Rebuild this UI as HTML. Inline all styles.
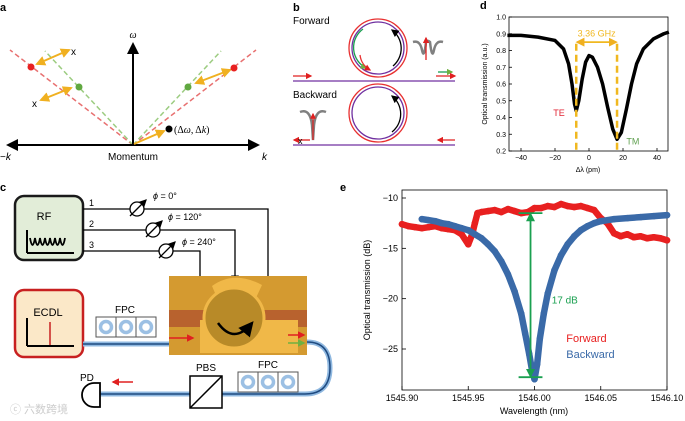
<!DOCTYPE html>
<html><head><meta charset="utf-8"><style>
body{margin:0;background:#fff}
svg{display:block;font-family:"Liberation Sans","Noto Sans CJK SC",sans-serif}
</style></head><body>
<svg id="fig" width="685" height="421" viewBox="0 0 685 421">
<defs>
<marker id="ab" markerWidth="6" markerHeight="6" refX="5" refY="3" orient="auto"><path d="M0,0L6,3L0,6z" fill="#000"/></marker>
<marker id="ay" markerWidth="5" markerHeight="5" refX="4" refY="2.5" orient="auto-start-reverse"><path d="M0,0L5,2.5L0,5z" fill="#f0b020"/></marker>
<marker id="ar" markerWidth="5" markerHeight="5" refX="4" refY="2.5" orient="auto"><path d="M0,0L5,2.5L0,5z" fill="#e02020"/></marker>
<marker id="ag" markerWidth="5" markerHeight="5" refX="4" refY="2.5" orient="auto-start-reverse"><path d="M0,0L5,2.5L0,5z" fill="#1aa050"/></marker>
<marker id="agg" markerWidth="5" markerHeight="5" refX="4" refY="2.5" orient="auto"><path d="M0,0L5,2.5L0,5z" fill="#70b040"/></marker>
</defs>

<g>
<text x="0" y="11" font-weight="bold" font-size="11">a</text>
<line x1="133" y1="145" x2="10" y2="50" stroke="#e87070" stroke-width="1.5" stroke-dasharray="5,3"/>
<line x1="133" y1="145" x2="256" y2="50" stroke="#e87070" stroke-width="1.5" stroke-dasharray="5,3"/>
<line x1="133" y1="145" x2="45" y2="51" stroke="#9ccc80" stroke-width="1.5" stroke-dasharray="5,3"/>
<line x1="133" y1="145" x2="221" y2="51" stroke="#9ccc80" stroke-width="1.5" stroke-dasharray="5,3"/>
<line x1="8" y1="145" x2="258" y2="145" stroke="#000" stroke-width="2" marker-end="url(#ab)"/>
<line x1="258" y1="145" x2="8" y2="145" stroke="#000" stroke-width="2" marker-end="url(#ab)"/>
<line x1="133" y1="146" x2="133" y2="44" stroke="#000" stroke-width="2" marker-end="url(#ab)"/>
<text x="133" y="38" font-size="10" font-style="italic" text-anchor="middle" font-family="Liberation Serif,serif">ω</text>
<text x="0" y="160" font-size="10">−<tspan font-style="italic">k</tspan></text>
<text x="133" y="160" font-size="10" text-anchor="middle">Momentum</text>
<text x="262" y="160" font-size="10" font-style="italic">k</text>
<g stroke="#f0b020" stroke-width="2" fill="none">
<line x1="37" y1="64" x2="69" y2="50" marker-start="url(#ay)" marker-end="url(#ay)"/>
<line x1="41" y1="100" x2="71" y2="88" marker-start="url(#ay)" marker-end="url(#ay)"/>
<line x1="196" y1="83" x2="230" y2="70" marker-start="url(#ay)" marker-end="url(#ay)"/>
<line x1="134" y1="144" x2="164" y2="131" marker-end="url(#ay)"/>
</g>
<circle cx="31" cy="67" r="3.5" fill="#e82020"/><circle cx="234" cy="68" r="3.5" fill="#e82020"/>
<circle cx="79" cy="87" r="3.5" fill="#60a840"/><circle cx="188" cy="87" r="3.5" fill="#60a840"/>
<circle cx="169" cy="129" r="3.5" fill="#000"/>
<text x="71" y="55" font-size="10">x</text><text x="32" y="107" font-size="10">x</text>
<text x="174" y="133" font-size="10" font-family="Liberation Serif,serif">(Δ<tspan font-style="italic">ω</tspan>, Δ<tspan font-style="italic">k</tspan>)</text>
</g>

<g>
<text x="293" y="11" font-weight="bold" font-size="11">b</text>
<text x="293" y="24" font-size="10">Forward</text>
<text x="293" y="98" font-size="10">Backward</text>
<circle cx="378" cy="48" r="29" fill="none" stroke="#e83030" stroke-width="1.3"/>
<circle cx="378" cy="48" r="26" fill="none" stroke="#7030a0" stroke-width="1.3"/>
<path d="M363,29 A23,23 0 0 0 366,68" fill="none" stroke="#1aa050" stroke-width="1.3" marker-end="url(#agg)"/>
<path d="M360,55 A20,20 0 0 0 370,70" fill="none" stroke="#e83030" stroke-width="1.3" marker-end="url(#ar)"/>
<path d="M393,66 A23,23 0 0 0 392,30" fill="none" stroke="#000" stroke-width="1.3" marker-end="url(#ab)"/>
<line x1="293" y1="81" x2="455" y2="81" stroke="#7030a0" stroke-width="1.3"/>
<line x1="293" y1="76" x2="311" y2="76" stroke="#e02020" stroke-width="1.3" marker-end="url(#ar)"/>
<line x1="438" y1="72" x2="452" y2="72" stroke="#1aa050" stroke-width="1.3" marker-end="url(#agg)"/>
<line x1="436" y1="76" x2="455" y2="76" stroke="#e02020" stroke-width="1.3" marker-end="url(#ar)"/>
<path d="M413,42 Q420,40 422,50 Q424,60 426,42 Q428,40 430,42 Q432,60 434,50 Q436,40 443,42" fill="none" stroke="#808080" stroke-width="2.5"/>
<line x1="426" y1="60" x2="426" y2="38" stroke="#e02020" stroke-width="1.3" marker-end="url(#ar)"/>
<circle cx="378" cy="113" r="29" fill="none" stroke="#e83030" stroke-width="1.3"/>
<circle cx="378" cy="113" r="26" fill="none" stroke="#7030a0" stroke-width="1.3"/>
<path d="M392,132 A23,23 0 0 0 392,96" fill="none" stroke="#000" stroke-width="1.3" marker-end="url(#ab)"/>
<line x1="293" y1="145" x2="455" y2="145" stroke="#7030a0" stroke-width="1.3"/>
<line x1="455" y1="140" x2="438" y2="140" stroke="#e02020" stroke-width="1.3" marker-end="url(#ar)"/>
<line x1="310" y1="140" x2="294" y2="140" stroke="#e02020" stroke-width="1.3" marker-end="url(#ar)"/>
<path d="M300,112 Q310,108 312,125 L313,140 L314,125 Q316,108 326,112" fill="none" stroke="#808080" stroke-width="2.5"/>
<line x1="313" y1="140" x2="313" y2="114" stroke="#e02020" stroke-width="1.2" marker-end="url(#ar)"/>
<text x="298" y="144" font-size="9">x</text>
</g>

<g>
<text x="0" y="191" font-weight="bold" font-size="11">c</text>
<rect x="15" y="196" width="68" height="64" rx="9" fill="#e2edd8" stroke="#1a1a1a" stroke-width="2.5"/>
<text x="44" y="220" font-size="11" text-anchor="middle">RF</text>
<path d="M27,253 L27,230 M27,253 L74,253" stroke="#000" stroke-width="2" fill="none"/>
<path d="M30,238 q2.5,14 5,0 q2.5,14 5,0 q2.5,14 5,0 q2.5,14 5,0 q2.5,14 5,0 q2.5,14 5,0 q2.5,14 5,0" stroke="#000" stroke-width="1.8" fill="none"/>
<g stroke="#000" stroke-width="1.3" fill="none">
<path d="M83,209 H268 V318" marker-end="url(#ab)"/>
<path d="M83,230 H235 V282" marker-end="url(#ab)"/>
<path d="M83,251 H200 V312" marker-end="url(#ab)"/>
</g>
<text x="89" y="206" font-size="9">1</text><text x="89" y="227" font-size="9">2</text><text x="89" y="248" font-size="9">3</text>
<g fill="#fff" stroke="#000" stroke-width="1.3">
<circle cx="137" cy="209" r="7"/><circle cx="153" cy="230" r="7"/><circle cx="166" cy="251" r="7"/>
<line x1="130" y1="216" x2="146" y2="200" marker-end="url(#ab)"/><line x1="146" y1="237" x2="162" y2="221" marker-end="url(#ab)"/><line x1="159" y1="258" x2="175" y2="242" marker-end="url(#ab)"/>
</g>
<text x="153" y="199" font-size="9"><tspan font-style="italic">ϕ</tspan> = 0°</text>
<text x="168" y="220" font-size="9"><tspan font-style="italic">ϕ</tspan> = 120°</text>
<text x="182" y="245" font-size="9"><tspan font-style="italic">ϕ</tspan> = 240°</text>
<rect x="169" y="276" width="138" height="79" fill="#d49a30"/>
<rect x="169" y="310" width="138" height="17" fill="#b8622e"/>
<path d="M200,320 L200,353 L298,353 L298,320 Z" fill="#f0b848"/>
<path d="M212,286 Q234,270 262,285 L255,300 Q234,290 218,300 Z" fill="#f0b848"/>
<circle cx="234" cy="318" r="30" fill="#b88a28" stroke="#f0b848" stroke-width="3"/>
<path d="M218,323 Q234,345 252,323" fill="none" stroke="#000" stroke-width="2.5" marker-end="url(#ab)"/>
<line x1="169" y1="338" x2="193" y2="338" stroke="#e02020" stroke-width="1.5" marker-end="url(#ar)"/>
<line x1="288" y1="335" x2="304" y2="335" stroke="#e02020" stroke-width="1.5" marker-end="url(#ar)"/>
<line x1="288" y1="343" x2="304" y2="343" stroke="#70b040" stroke-width="1.5" marker-end="url(#agg)"/>
<rect x="15" y="290" width="68" height="67" rx="9" fill="#fbe8c8" stroke="#c82020" stroke-width="2.5"/>
<text x="48" y="316" font-size="11" text-anchor="middle">ECDL</text>
<path d="M27,346 L27,318 M27,346 L74,346" stroke="#000" stroke-width="2" fill="none"/>
<line x1="50" y1="345" x2="50" y2="322" stroke="#c82020" stroke-width="1.5"/>
<g fill="none" stroke="#8fb8e0" stroke-width="5">
<path d="M83,344 H169"/>
<path d="M307,342 Q330,342 330,368 Q330,394 305,394 H100"/>
</g>
<g fill="none" stroke="#1e4a80" stroke-width="1.5">
<path d="M83,344 H169"/>
<path d="M307,342 Q330,342 330,368 Q330,394 305,394 H100"/>
</g>
<text x="125" y="313" font-size="10" text-anchor="middle">FPC</text>
<g stroke="#555" fill="#fff" stroke-width="1"><rect x="96" y="317" width="20" height="20"/><rect x="116" y="317" width="20" height="20"/><rect x="136" y="317" width="20" height="20"/>
<rect x="238" y="372" width="20" height="20"/><rect x="258" y="372" width="20" height="20"/><rect x="278" y="372" width="20" height="20"/></g>
<g fill="none" stroke="#9cc0e4" stroke-width="3.5"><circle cx="106" cy="327" r="5.5"/><circle cx="126" cy="327" r="5.5"/><circle cx="146" cy="327" r="5.5"/>
<circle cx="248" cy="382" r="5.5"/><circle cx="268" cy="382" r="5.5"/><circle cx="288" cy="382" r="5.5"/></g>
<text x="268" y="368" font-size="10" text-anchor="middle">FPC</text>
<text x="206" y="371" font-size="10" text-anchor="middle">PBS</text>
<rect x="190" y="376" width="32" height="32" fill="#fff" stroke="#000" stroke-width="1.5"/>
<line x1="190" y1="408" x2="222" y2="376" stroke="#000" stroke-width="1.5"/>
<path d="M100,383 H94 A12,12 0 0 0 94,407 H100 Z" fill="#fff" stroke="#000" stroke-width="1.8"/>
<text x="80" y="381" font-size="10">PD</text>
<line x1="133" y1="382" x2="113" y2="382" stroke="#e02020" stroke-width="1.5" marker-end="url(#ar)"/>
<text x="10" y="413" font-size="11" fill="#ccc">ⓒ 六数跨境</text>
</g>

<g id="pd">
<text x="480" y="9" font-weight="bold" font-size="11">d</text>
<rect x="509" y="17" width="159" height="134" fill="none" stroke="#000" stroke-width="0.8"/>
<text transform="translate(487,84) rotate(-90)" font-size="7" text-anchor="middle">Optical transmission (a.u.)</text>
<text x="588" y="172" font-size="7" text-anchor="middle">Δλ (pm)</text>
</g>

<g id="pe">
<text x="340" y="191" font-weight="bold" font-size="11">e</text>
<rect x="402" y="190" width="265" height="200" fill="none" stroke="#000" stroke-width="0.8"/>
<text transform="translate(370,290) rotate(-90)" font-size="9" text-anchor="middle">Optical transmission (dB)</text>
<text x="534" y="414" font-size="9" text-anchor="middle">Wavelength (nm)</text>
</g>
</svg>
<script>
const NS='http://www.w3.org/2000/svg';
const dX=[-48,-40,-30,-20,-15,-12,-10,-8.5,-7.5,-6,-4,-2,0,2,5,8,11,14,16.5,19,22,25,28,32,38,44,47];
const dY=[0.89,0.89,0.88,0.86,0.81,0.72,0.6,0.48,0.44,0.5,0.63,0.73,0.77,0.76,0.7,0.6,0.46,0.33,0.27,0.31,0.45,0.6,0.72,0.81,0.87,0.9,0.91];
const dXTicks=[-40,-20,0,20,40];
const dYTicks=[0.2,0.3,0.4,0.5,0.6,0.7,0.8,0.9,1.0];
const dDips=[-7.5,16.5];
const fX=[1545.90,1545.905,1545.91,1545.915,1545.92,1545.925,1545.93,1545.935,1545.94,1545.945,1545.95,1545.953,1545.955,1545.957,1545.96,1545.965,1545.97,1545.975,1545.98,1545.985,1545.99,1545.995,1546.00,1546.005,1546.01,1546.015,1546.02,1546.025,1546.03,1546.035,1546.04,1546.045,1546.05,1546.055,1546.06,1546.065,1546.07,1546.075,1546.08,1546.085,1546.09,1546.095,1546.10];
const fY=[-12.6,-12.8,-12.9,-13.0,-12.9,-12.8,-13.0,-13.1,-13.2,-13.6,-14.6,-13.6,-12.5,-11.5,-11.4,-11.3,-11.2,-11.4,-11.1,-11.3,-11.5,-11.4,-11.0,-11.0,-10.8,-10.9,-10.6,-10.8,-10.9,-10.8,-11.0,-11.2,-12.0,-12.5,-13.5,-13.8,-13.6,-13.9,-13.8,-14.0,-13.9,-14.0,-14.2];
const bX=[1545.915,1545.92,1545.925,1545.93,1545.935,1545.94,1545.945,1545.95,1545.955,1545.96,1545.965,1545.97,1545.975,1545.98,1545.985,1545.99,1545.993,1545.996,1545.998,1546.000,1546.002,1546.004,1546.007,1546.01,1546.015,1546.02,1546.025,1546.03,1546.035,1546.04,1546.045,1546.05,1546.06,1546.07,1546.08,1546.09,1546.10];
const bY=[-12.1,-12.2,-12.3,-12.5,-12.6,-12.8,-13.0,-13.2,-13.6,-14.0,-14.6,-15.3,-16.3,-17.6,-19.3,-21.5,-23.5,-25.5,-27.0,-28.0,-26.5,-24.0,-21.5,-19.5,-17.2,-15.7,-14.6,-13.8,-13.2,-12.8,-12.5,-12.3,-12.1,-12.0,-11.9,-11.8,-11.7];
const eXTicks=[1545.90,1545.95,1546.00,1546.05,1546.10];
const eYTicks=[-10,-15,-20,-25];

function mk(tag,attrs,parent,text){const e=document.createElementNS(NS,tag);for(const k in attrs)e.setAttribute(k,attrs[k]);if(text!==undefined)e.textContent=text;parent.appendChild(e);return e;}
const dxs=v=>589+(v)*1.7, dys=v=>151-(v-0.2)/0.8*134;
const pd=document.getElementById('pd');
dXTicks.forEach(t=>{mk('line',{x1:dxs(t),x2:dxs(t),y1:151,y2:148,stroke:'#000','stroke-width':0.8},pd);
 const l=mk('text',{x:dxs(t),y:160,'font-size':7,'text-anchor':'middle'},pd,t<0?'−'+(-t):String(t));
 
 });
dYTicks.forEach(t=>{mk('line',{x1:509,x2:512,y1:dys(t),y2:dys(t),stroke:'#000','stroke-width':0.8},pd);
 const l=mk('text',{x:506,y:dys(t)+2.5,'font-size':7,'text-anchor':'end'},pd,t.toFixed(1));
 
 });
const dl=mk('polyline',{points:dX.map((x,i)=>dxs(x)+','+dys(dY[i])).join(' '),fill:'none',stroke:'#000','stroke-width':3.5,'stroke-linejoin':'round'},pd);


dDips.forEach(v=>{const l=mk('line',{x1:dxs(v),x2:dxs(v),y1:dys(0.84),y2:dys(0.2),stroke:'#f0b820','stroke-width':2.5,'stroke-dasharray':'7,4'},pd);
 
 });
mk('line',{x1:dxs(dDips[0])+1,x2:dxs(dDips[1])-1,y1:dys(0.85),y2:dys(0.85),stroke:'#f0b820','stroke-width':1.8,'marker-start':'url(#ay)','marker-end':'url(#ay)'},pd);
mk('text',{x:dxs(4.5),y:dys(0.885),'font-size':9,'text-anchor':'middle',fill:'#f0b820'},pd,'3.36 GHz');
mk('text',{x:dxs(-21),y:dys(0.41),'font-size':9,fill:'#e02030'},pd,'TE');
mk('text',{x:dxs(22),y:dys(0.24),'font-size':9,fill:'#60a050'},pd,'TM');
const exs=v=>402+(v-1545.90)/0.2*265, eys=v=>198-(v+10)/15*151;
const pe=document.getElementById('pe');
eXTicks.forEach(t=>{mk('line',{x1:exs(t),x2:exs(t),y1:390,y2:386,stroke:'#000','stroke-width':0.8},pe);
 const l=mk('text',{x:exs(t),y:401,'font-size':9,'text-anchor':'middle'},pe,t.toFixed(2));
 
 });
eYTicks.forEach(t=>{mk('line',{x1:402,x2:406,y1:eys(t),y2:eys(t),stroke:'#000','stroke-width':0.8},pe);
 const l=mk('text',{x:398,y:eys(t)+3,'font-size':9,'text-anchor':'end'},pe,'−'+(-t));
 
 });
function series(xs,ys,col,name){const g=mk('g',{},pe);
 
 
 mk('polyline',{points:xs.map((x,i)=>exs(x)+','+eys(ys[i])).join(' '),fill:'none',stroke:col,'stroke-width':6.5,'stroke-linejoin':'round','stroke-linecap':'round'},g);
 xs.forEach((x,i)=>mk('circle',{cx:exs(x),cy:eys(ys[i]),r:3.3,fill:col},g));}
series(fX,fY,'#e82020','forward-series');
series(bX,bY,'#3a6aa8','backward-series');
mk('line',{x1:exs(1545.997),x2:exs(1545.997),y1:eys(-11.6),y2:eys(-27.7),stroke:'#1aa050','stroke-width':1.8,'marker-start':'url(#ag)','marker-end':'url(#ag)'},pe);
mk('line',{x1:exs(1545.988),x2:exs(1546.006),y1:eys(-11.5),y2:eys(-11.5),stroke:'#1aa050','stroke-width':1.8},pe);
mk('line',{x1:exs(1545.988),x2:exs(1546.006),y1:eys(-27.8),y2:eys(-27.8),stroke:'#1aa050','stroke-width':1.8},pe);
mk('text',{x:exs(1546.013),y:eys(-20.5),'font-size':10,fill:'#1aa050'},pe,'17 dB');
const lf=mk('text',{x:exs(1546.024),y:eys(-24.3),'font-size':11,fill:'#e82020'},pe,'Forward');


const lb=mk('text',{x:exs(1546.024),y:eys(-25.9),'font-size':11,fill:'#3a6aa8'},pe,'Backward');


</script>
</body></html>
